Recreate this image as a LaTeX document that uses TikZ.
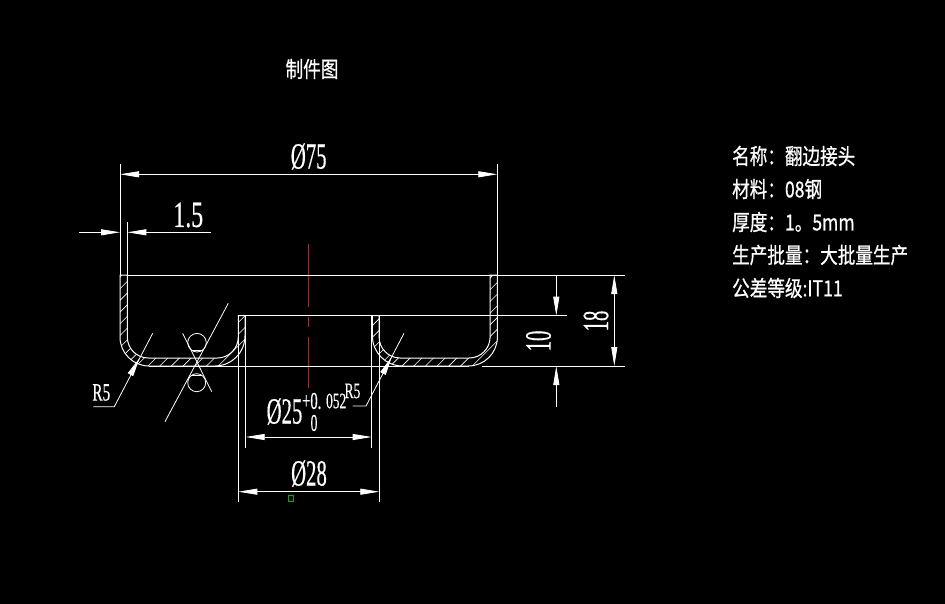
\documentclass[tikz,border=0pt]{standalone}
\usepackage{fontspec}
\setmainfont[FakeBold=0.5]{Liberation Serif}
\newfontfamily\cjk[FakeBold=0.8]{Noto Sans CJK SC}
\usetikzlibrary{arrows.meta,positioning}
\definecolor{axiscolor}{rgb}{0.8, 0.1, 0.1}
\tikzset{
	outline/.style={
		draw=white,
		line width=1pt
	},
	thinline/.style={
		draw=white,
		line width=0.8pt
	},
	dimarrow/.style={
		draw=white,
		line width=0.8pt,
		>={Triangle[length=19pt,width=6pt]}
	},
	dimtext/.style={
		text=white,
		inner sep=0pt,
		font=\fontsize{37}{37}\selectfont,
		xscale=0.56,
		transform shape
	},
	smalltext/.style={
		text=white,
		inner sep=0pt,
		font=\fontsize{22}{22}\selectfont,
		xscale=0.61,
		transform shape
	},
	infotext/.style={
		text=white,
		inner sep=0pt,
		anchor=west,
		font=\cjk\fontsize{22}{22}\selectfont,
		xscale=0.8,
		transform shape
	},
	flipped/.style={
		xscale=-1,
		xshift=-617.4pt
	},
}
% half of the section, mirrored about the axis for the other half
\newcommand{\halfsection}{
	(120,275) -- (120,337) arc[start angle=180,end angle=90,radius=29]
	-- (215,366) arc[start angle=90,end angle=0,radius=30]
	-- (245,315.7) -- (238.3,315.7) -- (238.3,337)
	arc[start angle=0,end angle=90,radius=21]
	-- (148.3,358) arc[start angle=90,end angle=180,radius=21]
	-- (127.3,275) -- cycle
}
\begin{document}
\begin{tikzpicture}[x=1pt,y=-1pt]
		\fill[black] (0,0) rectangle (945,604);
		
		% hatching
		\begin{scope}
		\clip \halfsection;
		\foreach \c in {397,408.7,...,620}
			\draw[thinline,line width=0.6pt] ({\c-275},275) -- ({\c-370},370);
		\end{scope}
		\begin{scope}
		\clip[flipped] \halfsection;
		\foreach \c in {616,627.7,...,870}
			\draw[thinline,line width=0.6pt] ({\c-275},275) -- ({\c-370},370);
		\end{scope}
		
		% section
		\draw[outline] \halfsection;
		\draw[outline,flipped] \halfsection;
		
		% axis
		\coordinate (axis1) at (308.5,244);
		\coordinate (axis2) at (308.5,307);
		\coordinate (axis3) at (308.5,317);
		\coordinate (axis4) at (308.5,327);
		\coordinate (axis5) at (308.5,337);
		\coordinate (axis6) at (308.5,388);
		\draw[axiscolor,line width=1pt] (axis1) -- (axis2) (axis3) -- (axis4) (axis5) -- (axis6);
		
		% long lines
		\draw[outline] (127.3,275) -- (625,275);
		\draw[outline] (238.3,315.7) -- (566.7,315.7);
		\draw[outline] (149,366) -- (469,366);
		\draw[outline] (482,366) -- (625,366);
		
		% extension lines
		\draw[thinline] (120,275) -- (120,164);
		\draw[thinline] (497.3,275) -- (497.3,164);
		\draw[thinline] (127.3,275) -- (127.3,222);
		\draw[thinline] (238.3,315.7) -- (238.3,501.7);
		\draw[thinline] (379.3,315.7) -- (379.3,501.7);
		\draw[thinline] (245.7,315.7) -- (245.7,447.7);
		\draw[thinline] (371.7,315.7) -- (371.7,447.7);
		
		% dimensions
		\draw[dimarrow,<->] (120,174.3) -- (497.3,174.3);
		\draw[dimarrow,->] (79,232.3) -- (120,232.3);
		\draw[dimarrow,->] (210.7,232.3) -- (127.3,232.3);
		\draw[dimarrow,<->] (245.7,437) -- (371.7,437);
		\draw[dimarrow,<->] (238.3,491.7) -- (379.3,491.7);
		\draw[dimarrow,->] (556.3,275) -- (556.3,315.7);
		\draw[dimarrow,->] (556.3,406.7) -- (556.3,366);
		\draw[dimarrow,<->] (614.3,275) -- (614.3,366);
		
		% leaders
		\coordinate (leaderL1) at (152.7,333.3);
		\coordinate (leaderL2) at (114.3,406.7);
		\coordinate (leaderL3) at (93.3,406.7);
		\coordinate (leaderR1) at (404,333.3);
		\coordinate (leaderR2) at (366,406);
		\coordinate (leaderR3) at (352.7,406);
		\draw[thinline] (leaderL1) -- (leaderL2) -- (leaderL3);
		\draw[thinline] (leaderR1) -- (leaderR2) -- (leaderR3);
		\draw[dimarrow,->] (130.8,374) -- (139.6,358);
		\draw[dimarrow,->] (383,373.5) -- (391.8,356.7);
		
		% marks
		\draw[thinline] (228.3,303.3) -- (165,421.7);
		\draw[thinline] (182.7,333.3) -- (211.7,391.7);
		\draw[thinline] (197,342.7) circle[radius=9.3];
		\draw[thinline] (196.7,382.7) circle[radius=9];
		\draw[thinline] (191.5,350) -- (202.5,350);
		\draw[thinline] (190.5,375.7) -- (202,375.7);
		\draw[green!70!black,line width=0.8pt] (288.5,495.7) rectangle (293.3,501.7);
		
		% labels
		\node (title) [infotext,anchor=center] at (312,69) {制件图};
		\node (d75) [dimtext] at (308.7,156.5) {Ø75};
		\node (t15) [dimtext,xscale=1.15] at (188.3,215) {1.5};
		\node (d25) [dimtext] at (284.5,411.5) {Ø25};
		\node (tolup) [smalltext,anchor=west,font=\fontsize{24}{24}\selectfont] at (302,401) {+0.};
		\node (tolnum) [smalltext,anchor=west] at (326,401) {052};
		\node (tollow) [dimtext,font=\fontsize{24}{24}\selectfont] at (314,423) {0};
		\node (d28) [dimtext] at (309,473.5) {Ø28};
		\node (r5l) [smalltext,font=\fontsize{25}{25}\selectfont] at (101.3,392.5) {R5};
		\node (r5r) [smalltext] at (352.5,391) {R5};
		\node (h10) [rotate=90,dimtext] at (538.5,341) {10};
		\node (h18) [rotate=90,dimtext] at (596,321) {18};
		
		\node (name) [infotext] at (732,156) {名称：翻边接头};
		\node (material) [infotext] at (732,189) {材料：08钢};
		\node (thick) [infotext] at (732,222) {厚度：1。5mm};
		\node (batch) [infotext] at (732,255) {生产批量：大批量生产};
		\node (grade) [infotext] at (732,288) {公差等级:IT11};
		\end{tikzpicture}
\end{document}
